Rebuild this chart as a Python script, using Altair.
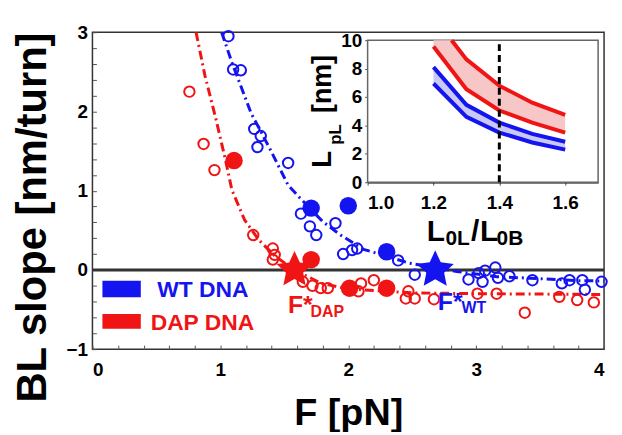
import altair as alt
import pandas as pd

BLUE = "#1414f0"
RED = "#f01414"
FONT = "Liberation Sans"
STAR = "M0,-1L0.282,-0.388L0.951,-0.309L0.456,0.148L0.588,0.809L0,0.48L-0.588,0.809L-0.456,0.148L-0.951,-0.309L-0.282,-0.388Z"

# ---------------- main panel data ----------------
wt_open_x = [1.063, 1.10, 1.16, 1.265, 1.316, 1.29, 1.53, 1.63, 1.70, 1.75, 1.90, 1.96, 2.03, 2.07,
             2.39, 2.52, 2.94, 3.02, 3.07, 3.15, 3.05, 3.17, 3.26, 3.44, 3.67, 3.73, 3.83, 3.85, 3.98]
wt_open_y = [2.95, 2.53, 2.52, 1.78, 1.69, 1.55, 1.35, 0.71, 0.55, 0.44, 0.59, 0.20, 0.25, 0.27,
             0.12, -0.06, -0.12, -0.04, -0.01, 0.03, -0.15, -0.10, -0.08, -0.13, -0.17, -0.13, -0.13, -0.25, -0.15]
wt_fill_x = [1.71, 2.00, 2.30]
wt_fill_y = [0.78, 0.81, 0.23]
wt_star = [2.68, 0.0]

dap_open_x = [0.758, 0.869, 0.954, 1.257, 1.41, 1.425, 1.41, 1.645, 1.72, 1.785, 1.84, 2.08, 2.10, 2.20,
              2.45, 2.47, 2.52, 2.67, 3.01, 3.16, 3.38, 3.65, 3.79, 3.92]
dap_open_y = [2.25, 1.59, 1.26, 0.44, 0.27, 0.19, 0.13, -0.15, -0.20, -0.23, -0.23, -0.27, -0.17, -0.13,
              -0.36, -0.27, -0.36, -0.37, -0.30, -0.30, -0.54, -0.34, -0.38, -0.41]
dap_fill_x = [1.107, 1.71, 2.01, 2.30]
dap_fill_y = [1.38, 0.13, -0.23, -0.23]
dap_star = [1.58, 0.0]

wt_fit_x = [1.01, 1.09, 1.24, 1.39, 1.53, 1.61, 1.80, 1.94, 2.12, 2.48, 2.85, 3.16, 3.42, 3.80, 4.0]
wt_fit_y = [3.0, 2.62, 1.98, 1.52, 1.07, 0.93, 0.61, 0.44, 0.26, 0.085, -0.02, -0.085, -0.105, -0.135, -0.14]
dap_fit_x = [0.81, 0.88, 0.96, 1.04, 1.09, 1.19, 1.30, 1.43, 1.58, 1.79, 2.0, 2.5, 3.0, 4.0]
dap_fit_y = [3.0, 2.45, 1.94, 1.39, 1.01, 0.63, 0.38, 0.17, 0.0, -0.17, -0.24, -0.29, -0.30, -0.31]

# ---------------- inset data ----------------
ins_x = [1.2, 1.3, 1.4, 1.5, 1.6]
wt_lo = [6.95, 4.6, 3.5, 2.8, 2.3]
wt_hi = [8.1, 5.45, 4.2, 3.4, 2.85]
dap_lo = [9.55, 6.55, 5.05, 4.2, 3.5]
dap_hi_x = [1.2, 1.255, 1.3, 1.4, 1.5, 1.6]
dap_hi = [10.0, 10.0, 8.65, 6.8, 5.6, 4.75]
ins_xdom = [1.0, 1.7]
ins_ydom = [0, 10]
ins_mark = 1.4

# ---------------- scales / axes ----------------
xt = [round(0.2 * i, 1) for i in range(21)]
yt = [round(-1 + 0.2 * i, 1) for i in range(21)]
lab = "datum.value == round(datum.value) ? (datum.value < 0 ? '\u2212' + abs(datum.value) : '' + datum.value) : ''"
common_axis = dict(domain=False, grid=False, tickSize=4, tickColor="#555", offset=-4,
                   labelFont=FONT, labelFontWeight="bold", labelFontSize=19, labelColor="black",
                   labelExpr=lab, titleFont=FONT, titleFontWeight="bold", titleColor="black")
X = alt.X("x:Q", scale=alt.Scale(domain=[0, 4], nice=False),
          axis=alt.Axis(values=xt, labelPadding=12, title="F [pN]", titleFontSize=38,
                        titleY=80, titleBaseline="alphabetic", **common_axis))
Y = alt.Y("y:Q", scale=alt.Scale(domain=[-1, 3], nice=False),
          axis=alt.Axis(values=yt, labelPadding=5, title="BL slope [nm/turn]", titleFontSize=42,
                        titleAngle=270, titleX=-51, titleY=186, titleAlign="center",
                        titleBaseline="alphabetic", **common_axis))


def df(xs, ys):
    return pd.DataFrame({"x": xs, "y": ys})


zero = alt.Chart(df([0], [0])).mark_rule(color="#333", strokeWidth=3).encode(y=Y)
fit_wt = alt.Chart(df(wt_fit_x, wt_fit_y)).mark_line(color=BLUE, strokeWidth=3, strokeDash=[9, 4, 2, 4], clip=True).encode(x=X, y=Y)
fit_dap = alt.Chart(df(dap_fit_x, dap_fit_y)).mark_line(color=RED, strokeWidth=3, strokeDash=[9, 4, 2, 4], clip=True).encode(x=X, y=Y)
open_wt = alt.Chart(df(wt_open_x, wt_open_y)).mark_point(shape="circle", filled=False, color=BLUE, strokeWidth=2, size=110, opacity=1).encode(x=X, y=Y)
open_dap = alt.Chart(df(dap_open_x, dap_open_y)).mark_point(shape="circle", filled=False, color=RED, strokeWidth=2, size=110, opacity=1).encode(x=X, y=Y)
fill_wt = alt.Chart(df(wt_fill_x, wt_fill_y)).mark_circle(color=BLUE, size=310, opacity=1).encode(x=X, y=Y)
fill_dap = alt.Chart(df(dap_fill_x, dap_fill_y)).mark_circle(color=RED, size=310, opacity=1).encode(x=X, y=Y)
star_wt = alt.Chart(df([wt_star[0]], [wt_star[1]])).mark_point(shape=STAR, filled=True, color=BLUE, size=1550, opacity=1).encode(x=X, y=Y)
star_dap = alt.Chart(df([dap_star[0]], [dap_star[1]])).mark_point(shape=STAR, filled=True, color=RED, size=1450, opacity=1).encode(x=X, y=Y)

# legend swatches
leg = pd.DataFrame({"x": [0.078, 0.078], "x2": [0.378, 0.378], "y": [-0.137, -0.555], "y2": [-0.345, -0.743],
                    "c": [BLUE, RED]})
leg_rect = alt.Chart(leg).mark_rect().encode(x=X, x2="x2:Q", y=Y, y2="y2:Q", color=alt.Color("c:N", scale=None))

# annotation texts (main-panel data coordinates)
ann_t = ["WT DNA", "DAP DNA", "F*", "DAP", "F*", "WT", "L", "0L", "/", "L", "0B", "L", "pL", "[nm]"]
ann_x = [0.507, 0.455, 1.528, 1.705, 2.70, 2.885, 2.614, 2.76, 2.96, 3.03, 3.16, 1.862, 1.94, 1.862]
ann_y = [-0.345, -0.755, -0.545, -0.60, -0.50, -0.55, 0.36, 0.31, 0.36, 0.36, 0.31, 1.29, 1.58, 1.98]
ann_s = [23, 23, 25, 16, 25, 16, 30, 21, 30, 30, 21, 28, 17, 27]
ann_c = [BLUE, RED, RED, RED, BLUE, BLUE] + ["black"] * 8
ann_a = [0] * 11 + [270] * 3
ann = pd.DataFrame({"x": ann_x, "y": ann_y, "t": ann_t, "s": ann_s, "c": ann_c, "a": ann_a})
texts = alt.Chart(ann).mark_text(align="left", baseline="alphabetic", font=FONT, fontWeight="bold").encode(
    x=X, y=Y, text="t:N",
    size=alt.Size("s:Q", scale=None, legend=None),
    color=alt.Color("c:N", scale=None),
    angle=alt.Angle("a:Q", scale=None),
)

main = alt.layer(zero, fit_wt, fit_dap, leg_rect, open_dap, open_wt, fill_dap, fill_wt,
                 star_dap, star_wt, texts)

# ---------------- inset ----------------
in_axis = dict(domain=True, domainColor="black", domainWidth=1.5, grid=False, tickSize=3, tickColor="#555",
               labelFont=FONT, labelFontWeight="bold", labelFontSize=19, labelColor="black", title=None)
XI = alt.X("x:Q", scale=alt.Scale(domain=ins_xdom, range=[277, 509], nice=False),
           axis=alt.Axis(orient="bottom", offset=-168, values=[1.0, 1.2, 1.4, 1.6], format=".1f",
                         labelPadding=8, **in_axis))
YI = alt.Y("y:Q", scale=alt.Scale(domain=ins_ydom, range=[151, 8], nice=False),
           axis=alt.Axis(orient="left", offset=-277, values=[0, 2, 4, 6, 8, 10], labelPadding=3, **in_axis))

frame = alt.Chart(pd.DataFrame({"x": [ins_xdom[0]], "x2": [ins_xdom[1]], "y": [ins_ydom[0]], "y2": [ins_ydom[1]]})).mark_rect(
    fill="white", stroke="#666", strokeWidth=1.5).encode(x=XI, x2="x2:Q", y=YI, y2="y2:Q")
band_wt = alt.Chart(pd.DataFrame({"x": ins_x, "y": wt_lo, "y2": wt_hi})).mark_area(color="#c9c9f3", opacity=1).encode(x=XI, y=YI, y2="y2:Q")
band_dap = alt.Chart(pd.DataFrame({"x": dap_hi_x, "y": [dap_lo[0], 8.1] + dap_lo[1:], "y2": dap_hi})).mark_area(color="#f7c6c6", opacity=1).encode(x=XI, y=YI, y2="y2:Q")


def iline(xs, ys, c):
    return alt.Chart(pd.DataFrame({"x": xs, "y": ys})).mark_line(color=c, strokeWidth=4).encode(x=XI, y=YI)


l1 = iline(ins_x, wt_lo, BLUE)
l2 = iline(ins_x, wt_hi, BLUE)
l3 = iline(ins_x, dap_lo, RED)
l4 = iline(dap_hi_x[1:], dap_hi[1:], RED)
vline = alt.Chart(pd.DataFrame({"x": [ins_mark], "y": [ins_ydom[0]], "y2": [ins_ydom[1]]})).mark_rule(
    color="black", strokeWidth=3, strokeDash=[7, 4]).encode(x=XI, y=YI, y2="y2:Q")

inset = alt.layer(frame, band_dap, band_wt, l3, l4, l1, l2, vline)

chart = alt.layer(main, inset).resolve_scale(x="independent", y="independent").properties(
    width=515, height=319,
    autosize=alt.AutoSizeParams(type="none"),
    padding={"left": 85, "top": 23, "right": 10, "bottom": 82},
).configure_view(stroke="#333", strokeWidth=1.5)

chart.save("out.html", embed_options={"renderer": "svg", "actions": False})
